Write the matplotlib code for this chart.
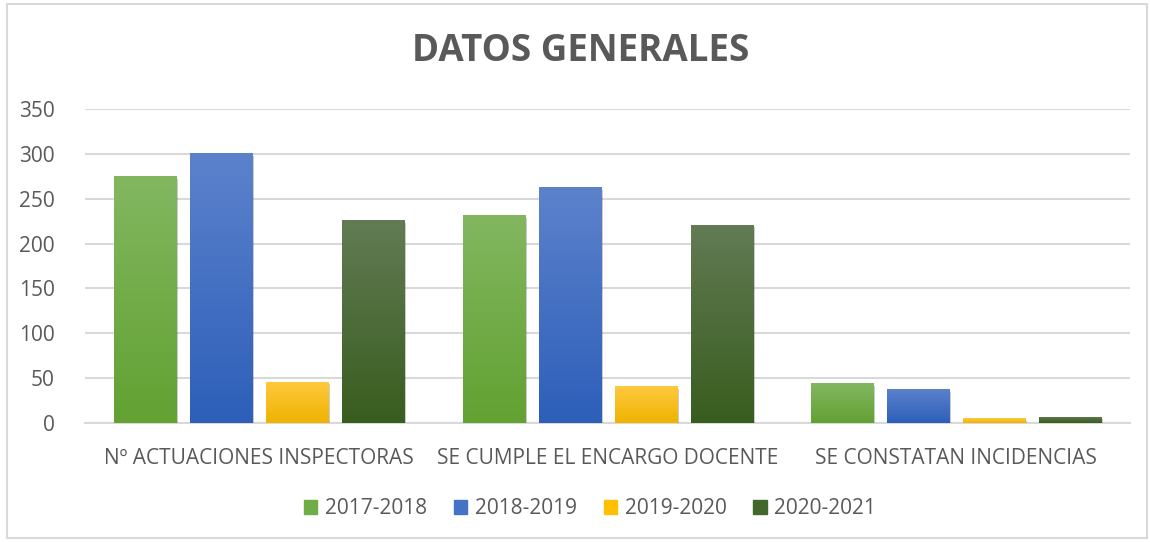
import numpy as np
import matplotlib.pyplot as plt
from matplotlib.patches import Rectangle
import matplotlib.patheffects as pe
from matplotlib.colors import LinearSegmentedColormap

# Data
categories = ['Nº ACTUACIONES INSPECTORAS', 'SE CUMPLE EL ENCARGO DOCENTE', 'SE CONSTATAN INCIDENCIAS']
years = ['2017-2018', '2018-2019', '2019-2020', '2020-2021']
v_2017 = [275, 232, 44]
v_2018 = [301, 263, 38]
v_2019 = [46, 41, 5]
v_2020 = [226, 221, 7]
series = [v_2017, v_2018, v_2019, v_2020]

# gradient (top, bottom) per series, plus legend colour
grads = [('#82b760', '#62a132'), ('#5c82cc', '#2d5fb9'),
         ('#ffc93f', '#efb300'), ('#627b54', '#395d1f')]
legend_cols = ['#70ad47', '#4472c4', '#ffc000', '#43682b']

txt = '#595959'
grid = '#d9d9d9'
plt.rcParams['font.family'] = ['Open Sans', 'DejaVu Sans']

fig = plt.figure(figsize=(11.5, 5.42), dpi=100)
ax = fig.add_axes([0.074, 0.2196, 0.909, 0.5794])

x = np.arange(len(categories))
w = 0.178
step = 0.218
for i, vals in enumerate(series):
    off = (i - 1.5) * step
    bars = ax.bar(x + off, vals, w, color=legend_cols[i], label=years[i], zorder=3,
                  path_effects=[pe.SimplePatchShadow(offset=(1.5, -2), shadow_rgbFace='#000000', alpha=0.2),
                                pe.Normal()])
    cmap = LinearSegmentedColormap.from_list('g%d' % i, [grads[i][1], grads[i][0]])
    for b in bars:
        im = ax.imshow(np.linspace(0, 1, 100).reshape(-1, 1), cmap=cmap, aspect='auto',
                       origin='lower', extent=[b.get_x(), b.get_x() + b.get_width(), 0, b.get_height()],
                       zorder=4)
        im.set_clip_path(b)

ax.set_xlim(-0.5, 2.5)
ax.set_ylim(0, 350)
ax.set_yticks(range(0, 351, 50))
ax.yaxis.grid(True, color=grid, linewidth=1.5, zorder=0)
ax.set_axisbelow(True)
for s in ['top', 'right', 'left']:
    ax.spines[s].set_visible(False)
ax.spines['bottom'].set_color(grid)
ax.spines['bottom'].set_linewidth(1.5)
ax.set_xticks(x)
ax.set_xticklabels(categories)
ax.tick_params(axis='x', length=0, pad=18, labelsize=15, labelcolor=txt)
ax.tick_params(axis='y', length=0, pad=22, labelsize=15, labelcolor=txt)

fig.text(0.505, 0.905, 'DATOS GENERALES', ha='center', va='center',
         fontsize=26.5, fontweight='bold', color=txt)

handles = [Rectangle((0, 0), 1, 1, color=c) for c in legend_cols]
fig.legend(handles, years, loc='center', bbox_to_anchor=(0.513, 0.062), ncol=4,
           frameon=False, fontsize=15, labelcolor=txt, handlelength=0.65, handleheight=0.65,
           columnspacing=1.3, handletextpad=0.35)

fig.add_artist(Rectangle((0.006, 0.007), 0.991, 0.986, transform=fig.transFigure,
                         fill=False, edgecolor=grid, linewidth=1.5))

fig.savefig('out.png', dpi=100)
